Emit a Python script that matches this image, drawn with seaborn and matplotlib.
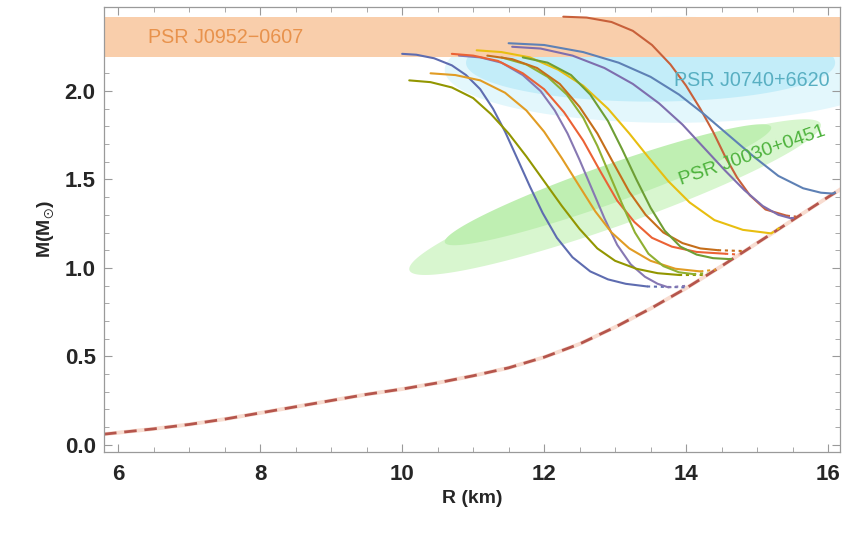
import numpy as np
import pandas as pd
import matplotlib
matplotlib.use("Agg")
import matplotlib.pyplot as plt
import seaborn as sns

# ---- hadronic branch (common low-density part) ----
hadron_R = [5.8, 6.5, 7.0, 7.5, 8.0, 8.5, 9.0, 9.5, 10.0, 10.5, 11.0, 11.5, 12.0,
            12.5, 13.0, 13.5, 14.0, 14.5, 15.0, 15.5, 16.0, 16.2]
hadron_M = [0.06, 0.09, 0.115, 0.145, 0.18, 0.215, 0.25, 0.285, 0.315, 0.35, 0.39,
            0.435, 0.495, 0.57, 0.665, 0.77, 0.885, 1.01, 1.14, 1.27, 1.40, 1.45]

# ---- stable branches of the individual EoS models ----
eos1_R = [10.00, 10.20, 10.45, 10.70, 10.90, 11.10, 11.28, 11.45, 11.62, 11.80, 11.98, 12.18, 12.40, 12.65, 12.90, 13.15, 13.45]
eos1_M = [2.21, 2.205, 2.185, 2.145, 2.09, 2.01, 1.90, 1.77, 1.62, 1.46, 1.31, 1.17, 1.06, 0.98, 0.935, 0.91, 0.895]
eos2_R = [10.80, 11.10, 11.40, 11.70, 11.95, 12.15, 12.33, 12.50, 12.67, 12.85, 13.03, 13.22, 13.42, 13.60, 13.75]
eos2_M = [2.20, 2.19, 2.16, 2.09, 2.00, 1.89, 1.76, 1.61, 1.45, 1.28, 1.13, 1.02, 0.95, 0.91, 0.89]
eos3_R = [10.10, 10.40, 10.70, 11.00, 11.25, 11.50, 11.75, 12.00, 12.25, 12.50, 12.75, 13.00, 13.30, 13.60, 13.90]
eos3_M = [2.06, 2.05, 2.02, 1.96, 1.87, 1.76, 1.63, 1.49, 1.35, 1.22, 1.11, 1.04, 0.995, 0.97, 0.96]
eos4_R = [10.40, 10.75, 11.10, 11.45, 11.75, 12.00, 12.25, 12.50, 12.72, 12.95, 13.20, 13.50, 13.85, 14.20]
eos4_M = [2.10, 2.09, 2.06, 1.99, 1.89, 1.77, 1.62, 1.46, 1.32, 1.20, 1.11, 1.04, 0.995, 0.98]
eos5_R = [10.70, 11.00, 11.35, 11.70, 12.00, 12.28, 12.55, 12.80, 13.03, 13.27, 13.52, 13.80, 14.15, 14.55]
eos5_M = [2.21, 2.20, 2.17, 2.10, 2.01, 1.88, 1.72, 1.54, 1.38, 1.26, 1.17, 1.12, 1.09, 1.08]
eos6_R = [11.40, 11.75, 12.05, 12.32, 12.55, 12.75, 12.93, 13.10, 13.28, 13.47, 13.68, 13.90, 14.10]
eos6_M = [2.19, 2.15, 2.08, 1.98, 1.85, 1.69, 1.52, 1.36, 1.20, 1.08, 1.01, 0.975, 0.965]
eos7_R = [11.20, 11.55, 11.90, 12.22, 12.50, 12.75, 12.98, 13.20, 13.43, 13.68, 13.95, 14.20, 14.45]
eos7_M = [2.20, 2.18, 2.13, 2.04, 1.91, 1.76, 1.59, 1.43, 1.30, 1.20, 1.14, 1.11, 1.10]
eos8_R = [11.05, 11.40, 11.80, 12.20, 12.55, 12.90, 13.20, 13.48, 13.75, 14.05, 14.40, 14.80, 15.20]
eos8_M = [2.23, 2.22, 2.19, 2.12, 2.03, 1.90, 1.76, 1.62, 1.49, 1.37, 1.27, 1.215, 1.195]
eos9_R = [11.70, 12.05, 12.38, 12.65, 12.90, 13.10, 13.30, 13.50, 13.70, 13.92, 14.15, 14.38, 14.60]
eos9_M = [2.19, 2.16, 2.09, 1.98, 1.83, 1.67, 1.50, 1.34, 1.21, 1.12, 1.075, 1.055, 1.05]
eos10_R = [12.27, 12.60, 12.95, 13.25, 13.52, 13.78, 14.00, 14.20, 14.38, 14.55, 14.72, 14.90, 15.12, 15.42]
eos10_M = [2.42, 2.415, 2.39, 2.34, 2.26, 2.15, 2.03, 1.90, 1.77, 1.63, 1.51, 1.41, 1.33, 1.295]
eos11_R = [11.55, 11.95, 12.40, 12.85, 13.25, 13.62, 13.95, 14.25, 14.55, 14.82, 15.08, 15.30, 15.48]
eos11_M = [2.25, 2.24, 2.20, 2.13, 2.04, 1.93, 1.81, 1.68, 1.55, 1.44, 1.35, 1.30, 1.28]
eos12_R = [11.50, 12.00, 12.55, 13.05, 13.50, 13.90, 14.25, 14.60, 14.95, 15.30, 15.65, 15.90, 16.07]
eos12_M = [2.27, 2.26, 2.22, 2.16, 2.08, 1.98, 1.87, 1.75, 1.63, 1.52, 1.45, 1.425, 1.42]

# ---- unstable connections back to the hadronic branch (dotted) ----
tail1_R, tail1_M = [13.45, 14.00], [0.895, 0.89]
tail2_R, tail2_M = [13.75, 14.04], [0.89, 0.90]
tail3_R, tail3_M = [13.90, 14.27], [0.96, 0.96]
tail4_R, tail4_M = [14.20, 14.42], [0.98, 0.99]
tail5_R, tail5_M = [14.55, 14.75], [1.08, 1.075]
tail6_R, tail6_M = [14.10, 14.30], [0.965, 0.97]
tail7_R, tail7_M = [14.45, 14.83], [1.10, 1.095]
tail8_R, tail8_M = [15.20, 15.33], [1.195, 1.23]
tail9_R, tail9_M = [14.60, 14.66], [1.05, 1.05]
tail10_R, tail10_M = [15.42, 15.55], [1.295, 1.29]
tail11_R, tail11_M = [15.48, 15.52], [1.28, 1.28]
tail12_R, tail12_M = [16.07, 16.12], [1.42, 1.43]

eos_names = [f"EoS {i}" for i in range(1, 13)]
eos_colors = ["#5E6CB0", "#8778B3", "#929600", "#E19C24", "#EB6235", "#8FB032",
              "#C56E1A", "#E8BE10", "#6E9E34", "#C8603A", "#7E6EAE", "#5E81B5"]

branches_R = [eos1_R, eos2_R, eos3_R, eos4_R, eos5_R, eos6_R,
              eos7_R, eos8_R, eos9_R, eos10_R, eos11_R, eos12_R]
branches_M = [eos1_M, eos2_M, eos3_M, eos4_M, eos5_M, eos6_M,
              eos7_M, eos8_M, eos9_M, eos10_M, eos11_M, eos12_M]
tails_R = [tail1_R, tail2_R, tail3_R, tail4_R, tail5_R, tail6_R,
           tail7_R, tail8_R, tail9_R, tail10_R, tail11_R, tail12_R]
tails_M = [tail1_M, tail2_M, tail3_M, tail4_M, tail5_M, tail6_M,
           tail7_M, tail8_M, tail9_M, tail10_M, tail11_M, tail12_M]

stable = pd.concat([pd.DataFrame({"R": r, "M": m, "eos": n})
                    for r, m, n in zip(branches_R, branches_M, eos_names)])
unstable = pd.concat([pd.DataFrame({"R": r, "M": m, "eos": n})
                      for r, m, n in zip(tails_R, tails_M, eos_names)])
hadron = pd.DataFrame({"R": hadron_R, "M": hadron_M})

# ---- observational constraints ----
j0952_band = (2.19, 2.42)
j0740_outer = dict(cR=13.8, cM=2.12, a=3.2, b=0.30, slope=0.0)
j0740_inner = dict(cR=13.5, cM=2.16, a=2.6, b=0.22, slope=0.0)
j0030_outer = dict(cR=13.0, cM=1.40, a=2.9, b=0.17, slope=0.14)
j0030_inner = dict(cR=12.9, cM=1.47, a=2.3, b=0.115, slope=0.14)


def contour(ax, cR, cM, a, b, slope, **kw):
    t = np.linspace(0, 2 * np.pi, 300)
    dr = a * np.cos(t)
    ax.fill(cR + dr, cM + slope * dr + b * np.sin(t), lw=0, **kw)


sns.set_style("ticks")
plt.rcParams["font.family"] = ["Liberation Sans", "DejaVu Sans"]
plt.rcParams["mathtext.fontset"] = "custom"
plt.rcParams["mathtext.rm"] = "Liberation Sans:bold"
plt.rcParams["mathtext.bf"] = "Liberation Sans:bold"

fig = plt.figure(figsize=(8.46, 5.36), dpi=100)
ax = fig.add_axes([0.123, 0.157, 0.870, 0.830])

contour(ax, **j0030_outer, color="#D8F6CF", zorder=0.5)
contour(ax, **j0030_inner, color="#BFEFB2", zorder=0.6)
contour(ax, **j0740_outer, color="#E3F7FC", zorder=0.5)
contour(ax, **j0740_inner, color="#C3EDF9", zorder=0.6)
ax.axhspan(*j0952_band, color="#F9CEAB", lw=0, zorder=0.8)

# hadronic branch: faint halo under red dashes
sns.lineplot(data=hadron, x="R", y="M", ax=ax, color="#F8DCD0", lw=2.8,
             sort=False, estimator=None, zorder=2)
sns.lineplot(data=hadron, x="R", y="M", ax=ax, color="#B5554C", lw=2.0,
             sort=False, estimator=None, zorder=2.1)
ax.lines[-1].set_dashes([4.5, 2.8])

pal = dict(zip(eos_names, eos_colors))
sns.lineplot(data=unstable, x="R", y="M", hue="eos", units="eos", palette=pal,
             sort=False, estimator=None, lw=1.5, legend=False, ax=ax, zorder=2.5)
for ln in ax.lines[2:]:
    ln.set_linestyle((0, (1.5, 1.8)))
sns.lineplot(data=stable, x="R", y="M", hue="eos", units="eos", palette=pal,
             sort=False, estimator=None, lw=1.5, legend=False, ax=ax, zorder=3)

ax.text(6.42, 2.305, "PSR J0952\u22120607", color="#E8924C", fontsize=14.2,
        va="center", ha="left", zorder=4)
ax.text(16.02, 2.06, "PSR J0740+6620", color="#58AFC2", fontsize=14.2,
        va="center", ha="right", zorder=4)
ax.text(14.93, 1.635, "PSR J0030+0451", color="#4DB23C", fontsize=14.0,
        va="center", ha="center", rotation=19, rotation_mode="anchor", zorder=4)

ax.set_xlim(5.8, 16.17)
ax.set_ylim(-0.04, 2.475)
ax.set_xticks([6, 8, 10, 12, 14, 16])
ax.set_yticks([0.0, 0.5, 1.0, 1.5, 2.0])
ax.set_yticklabels(["0.0", "0.5", "1.0", "1.5", "2.0"])
ax.set_xticks(np.arange(6, 16.2, 0.5), minor=True)
ax.set_yticks(np.arange(0, 2.45, 0.1), minor=True)
ax.tick_params(which="both", direction="in", top=True, right=True, color="#9A9A9A")
ax.tick_params(which="major", length=6, width=0.8, labelsize=16)
ax.tick_params(axis="x", which="major", pad=9)
ax.tick_params(axis="y", which="major", pad=6)
ax.tick_params(which="minor", length=3.5, width=0.6)
for lab in ax.get_xticklabels() + ax.get_yticklabels():
    lab.set_fontweight("bold")
for sp in ax.spines.values():
    sp.set_color("#9A9A9A")
    sp.set_linewidth(0.9)

ax.set_xlabel("R (km)", fontsize=14, fontweight="bold", labelpad=3)
ax.set_ylabel("M(M$_{\u2299}$)", fontsize=14, fontweight="bold", labelpad=6)

fig.savefig("out.png", dpi=100)
